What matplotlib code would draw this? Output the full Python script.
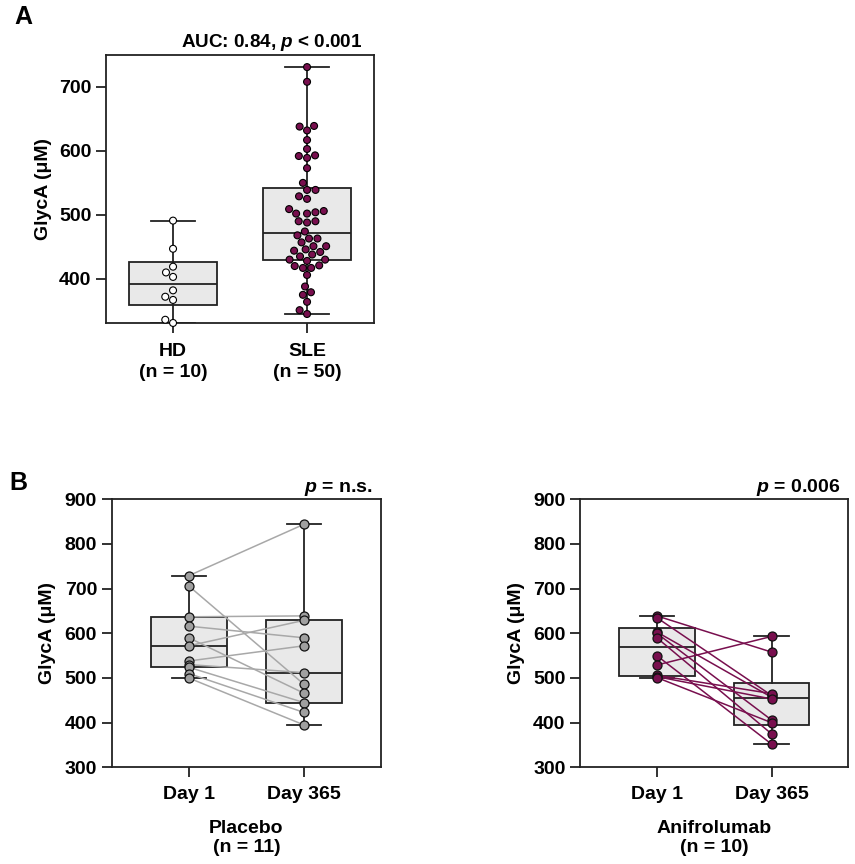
import matplotlib
matplotlib.use('Agg')
import matplotlib.pyplot as plt
import numpy as np
import pandas as pd
import seaborn as sns

plt.rcParams.update({
    'font.family': ['Liberation Sans', 'DejaVu Sans'],
    'font.weight': 'bold',
    'font.size': 14,
    'axes.labelweight': 'bold',
    'axes.linewidth': 1.3,
    'axes.edgecolor': '#222222',
    'xtick.major.size': 7.5,
    'ytick.major.size': 7.5,
    'xtick.major.width': 1.3,
    'ytick.major.width': 1.3,
    'xtick.color': '#222222',
    'ytick.color': '#222222',
    'xtick.labelcolor': 'black',
    'ytick.labelcolor': 'black',
    'mathtext.fontset': 'custom',
    'mathtext.it': 'Liberation Sans:italic:bold',
    'mathtext.rm': 'Liberation Sans:bold',
    'mathtext.bf': 'Liberation Sans:bold',
})

# Panel A: GlycA in healthy donors vs SLE
hd = [491, 447, 419, 410, 403, 382, 372, 367, 336, 331]
sle = [731, 708, 639, 638, 632, 617, 603, 593, 592, 589, 573, 550, 539, 539,
       529, 525, 509, 506, 504, 502, 502, 490, 490, 488, 474, 468, 463, 463,
       457, 451, 451, 446, 444, 442, 438, 435, 430, 430, 428, 421, 420, 417,
       417, 406, 388, 379, 375, 364, 351, 345]
groups_a = ['HD', 'SLE']
labels_a = ['HD\n(n = 10)', 'SLE\n(n = 50)']

# Panel B: paired Day 1 / Day 365 values
placebo_d1 = [729, 706, 637, 616, 590, 572, 538, 530, 524, 510, 500]
placebo_d365 = [844, 486, 639, 590, 466, 629, 572, 512, 445, 423, 395]
anif_d1 = [639, 635, 603, 600, 590, 550, 529, 506, 503, 501]
anif_d365 = [558, 461, 457, 406, 375, 352, 593, 465, 453, 400]
days = ['Day 1', 'Day 365']

PURPLE = '#780f4e'
GREY_PT = '#a0a0a0'
BOX_FACE = '#e9e9e9'
EDGE = '#222222'
LW = 1.3


def box_stats(vals):
    # GraphPad-style quartiles, whiskers min to max
    v = np.asarray(vals, dtype=float)
    q1, med, q3 = np.percentile(v, [25, 50, 75], method='weibull')
    return dict(med=med, q1=q1, q3=q3, whislo=v.min(), whishi=v.max(), fliers=[])


def draw_boxes(ax, series, width, capw):
    ax.bxp([box_stats(s) for s in series], positions=[0, 1], widths=width,
           capwidths=capw, patch_artist=True, showfliers=False, manage_ticks=False,
           boxprops=dict(facecolor=BOX_FACE, edgecolor=EDGE, linewidth=LW),
           medianprops=dict(color=EDGE, linewidth=LW),
           whiskerprops=dict(color=EDGE, linewidth=LW),
           capprops=dict(color=EDGE, linewidth=LW), zorder=1)


fig = plt.figure(figsize=(8.55, 8.64), dpi=100)

# ---- Panel A ----
axA = fig.add_axes([0.124, 0.6262, 0.3135, 0.3102])
draw_boxes(axA, [hd, sle], 0.66, 0.33)
df = pd.DataFrame({'group': ['HD'] * len(hd) + ['SLE'] * len(sle),
                   'value': hd + sle})
sns.swarmplot(data=df, x='group', y='value', hue='group', order=groups_a,
              palette={'HD': 'white', 'SLE': PURPLE}, size=5.0,
              edgecolor='black', linewidth=0.8, legend=False, ax=axA, zorder=3)
for coll in axA.collections:
    coll.set_clip_on(False)
axA.set_xlim(-0.5, 1.5)
axA.set_ylim(331, 750)
axA.set_yticks([400, 500, 600, 700])
axA.set_xticks([0, 1])
axA.set_xticklabels(labels_a, linespacing=1.3)
axA.set_xlabel('')
axA.set_ylabel('GlycA (μM)', labelpad=5)
axA.tick_params(axis='x', pad=7)
axA.tick_params(axis='y', pad=3)
for s in axA.spines.values():
    s.set_visible(True)
fig.text(362 / 855, 1 - 47 / 864, r'AUC: 0.84, $p$ < 0.001', ha='right',
         va='baseline', fontsize=13.6)
fig.text(14 / 855, 1 - 24 / 864, 'A', ha='left', va='baseline', fontsize=18)


# ---- Panel B ----
def paired_panel(rect, d1, d365, line_color, pt_color, title, note):
    ax = fig.add_axes(rect)
    draw_boxes(ax, [d1, d365], 0.66, 0.3)
    for a, b in zip(d1, d365):
        ax.plot([0, 1], [a, b], color=line_color, lw=1.1, zorder=2)
    ax.scatter(np.zeros(len(d1)), d1, s=42, color=pt_color, edgecolor='#111111',
               linewidth=0.9, zorder=4, clip_on=False)
    ax.scatter(np.ones(len(d365)), d365, s=42, color=pt_color, edgecolor='#111111',
               linewidth=0.9, zorder=4, clip_on=False)
    ax.set_xlim(-0.67, 1.67)
    ax.set_ylim(300, 900)
    ax.set_yticks(range(300, 901, 100))
    ax.set_xticks([0, 1])
    ax.set_xticklabels(days)
    ax.set_xlabel(title, labelpad=12, linespacing=1.2)
    ax.set_ylabel('GlycA (μM)', labelpad=6)
    ax.tick_params(axis='x', pad=6)
    ax.tick_params(axis='y', pad=3)
    pos = ax.get_position()
    fig.text(pos.x1 - 0.009, pos.y1 + 0.008, note, ha='right', va='baseline',
             fontsize=14)
    return ax


paired_panel([0.1306, 0.1119, 0.315, 0.3102], placebo_d1, placebo_d365,
             '#a8a8a8', GREY_PT, 'Placebo\n(n = 11)', r'$p$ = n.s.')
paired_panel([0.6784, 0.1119, 0.3138, 0.3102], anif_d1, anif_d365,
             PURPLE, PURPLE, 'Anifrolumab\n(n = 10)', r'$p$ = 0.006')
fig.text(9 / 855, 1 - 490 / 864, 'B', ha='left', va='baseline', fontsize=18)

fig.savefig('out.png', dpi=100, facecolor='white')
